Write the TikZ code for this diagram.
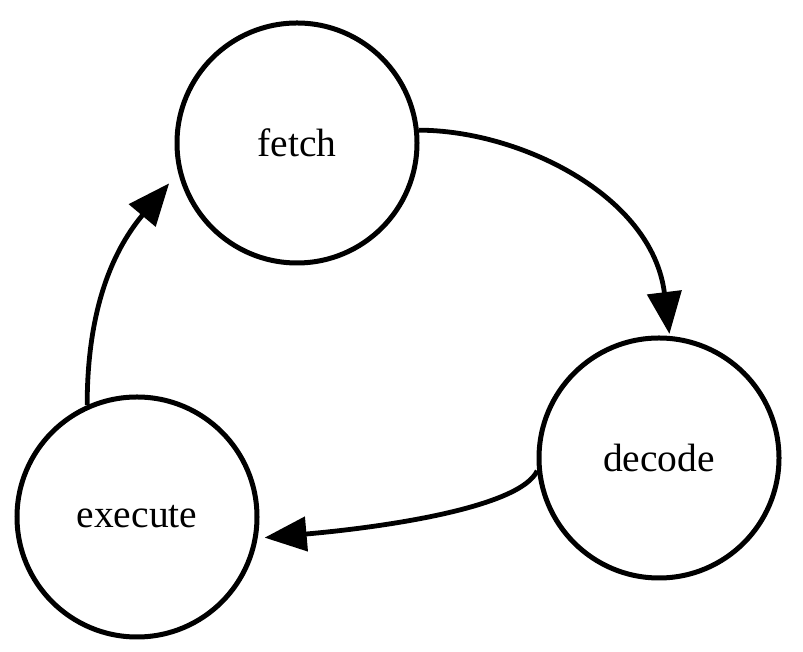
\documentclass[tikz,border=0pt]{standalone}
\usepackage{fontspec}
\setmainfont{Liberation Serif}
\usetikzlibrary{arrows.meta}
\begin{document}
\begin{tikzpicture}[x=1pt,y=1pt,
  state/.style={draw=black, line width=5pt, circle, minimum size=240pt, inner sep=0pt,
    font=\fontsize{39.5}{47}\selectfont},
  edge/.style={line width=4.8pt, -{Triangle[length=42pt,width=34pt]}}]
\useasboundingbox (0,0) rectangle (803,652);
\node[state] (fetch) at (297,509) {fetch};
\node[state] (decode) at (659,194) {decode};
\node[state] (execute) at (137,135) {execute};
\draw[edge, shorten >=2pt] (fetch.6) to[out=0, in=97, out distance=100pt, in distance=142pt] (decode.85);
\draw[edge, shorten >=7pt] (decode.186) to[out=245, in=5, out distance=40pt, in distance=130pt] (execute.-10);
\draw[edge, shorten >=14pt] (execute.114) to[out=90, in=230, out distance=70pt, in distance=120pt] (fetch.194);
\end{tikzpicture}
\end{document}
